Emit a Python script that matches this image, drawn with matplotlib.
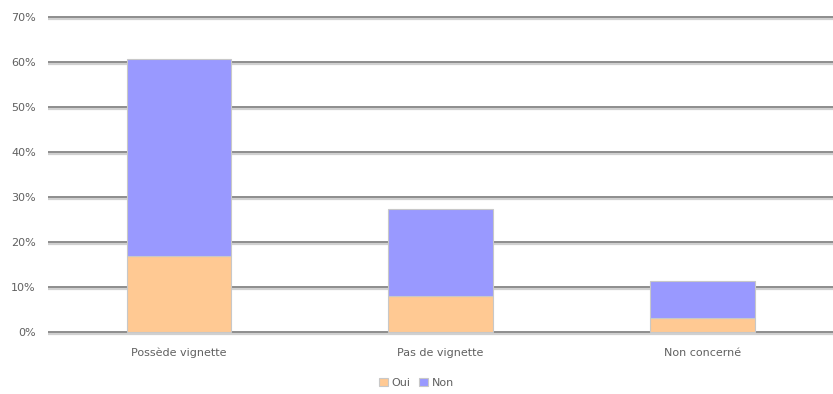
import matplotlib.pyplot as plt
import numpy as np
from matplotlib.ticker import PercentFormatter

categories = ["Possède vignette", "Pas de vignette", "Non concerné"]
oui = [17.0, 8.0, 3.0]
non = [43.7, 19.3, 8.3]
yticks = [0, 10, 20, 30, 40, 50, 60, 70]

fig = plt.figure(figsize=(8.33, 3.94), dpi=100)
ax = fig.add_axes([0.058, 0.146, 0.942, 0.822])

x = np.arange(len(categories))
width = 0.4

# gridlines with a light shadow underneath
for t in yticks:
    ax.axhline(t - 0.35, color="#d0d0d0", linewidth=1.6, zorder=1)
    ax.axhline(t, color="#7a7a7a", linewidth=1.2, zorder=1)

ax.bar(x, oui, width, color="#ffc993", edgecolor="#c8c8c8", linewidth=0.8,
       label="Oui", zorder=3)
ax.bar(x, non, width, bottom=oui, color="#9999ff", edgecolor="#c8c8c8",
       linewidth=0.8, label="Non", zorder=3)

ax.set_xlim(-0.5, 2.5)
ax.set_ylim(-1, 71)
ax.set_yticks(yticks)
ax.yaxis.set_major_formatter(PercentFormatter(decimals=0))
ax.set_xticks(x)
ax.set_xticklabels(categories)
ax.tick_params(length=0, colors="#606060", labelsize=8)
ax.tick_params(axis="y", pad=9)
ax.tick_params(axis="x", pad=8)
for s in ax.spines.values():
    s.set_visible(False)

fig.legend(loc="lower center", bbox_to_anchor=(0.5, -0.01), ncol=2, frameon=False,
           fontsize=8, handlelength=0.8, handleheight=0.8, handletextpad=0.3,
           columnspacing=0.8, labelcolor="#606060")

fig.savefig("out.png", dpi=100)
